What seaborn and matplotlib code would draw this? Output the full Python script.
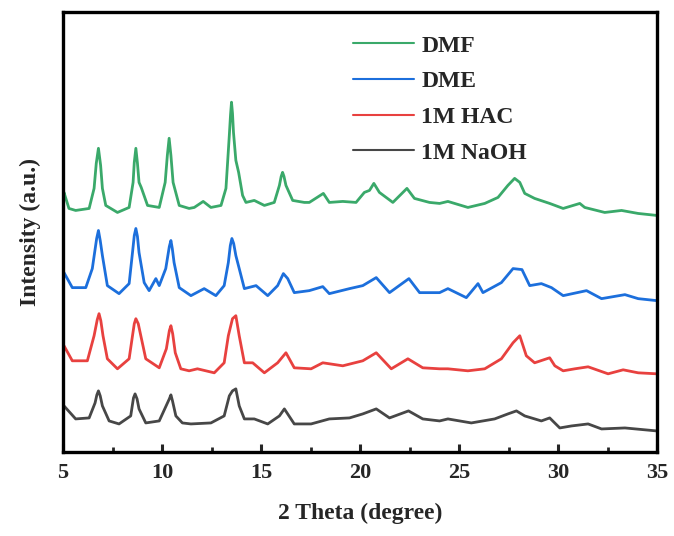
import matplotlib
matplotlib.use("Agg")
import matplotlib.pyplot as plt
import seaborn as sns
import pandas as pd

# ---- data (2-theta in degree, intensity in arbitrary units, offset stacked) ----
dmf_x = [5.0, 5.05, 5.3, 5.64, 6.32, 6.57, 6.68, 6.79, 6.90, 6.99, 7.16, 7.75, 8.34, 8.54, 8.60, 8.68,
         8.76, 8.84, 8.95, 9.27, 9.86, 10.16, 10.27, 10.36, 10.45, 10.56, 10.87, 11.37, 11.63, 12.08,
         12.47, 12.98, 13.23, 13.40, 13.46, 13.51, 13.56, 13.61, 13.73, 13.87, 14.07, 14.24, 14.66,
         15.17, 15.67, 15.93, 16.02, 16.09, 16.16, 16.26, 16.60, 17.19, 17.44, 18.15, 18.45, 19.13,
         19.80, 20.22, 20.48, 20.70, 20.98, 21.66, 22.37, 22.75, 23.51, 24.02, 24.44, 25.45, 26.30,
         26.97, 27.47, 27.81, 28.07, 28.32, 28.82, 29.58, 30.26, 31.10, 31.35, 32.36, 33.21, 34.05,
         35.0]
dmf_y = [258, 263, 247, 245, 247, 267, 292, 307, 290, 267, 250, 243, 248, 273, 293, 307,
         292, 273, 268, 250, 248, 273, 300, 317, 300, 273, 250, 247, 248, 254,
         248, 250, 267, 320, 340, 353, 342, 323, 295, 283, 260, 253, 255,
         250, 253, 270, 279, 283, 279, 270, 255, 253, 253, 262, 253, 254,
         253, 263, 265, 272, 263, 253, 267, 257, 253, 252, 254, 248, 252,
         258, 270, 277, 273, 262, 257, 252, 247, 252, 248, 243, 245, 242,
         240]

dme_x = [5.0, 5.05, 5.47, 6.15, 6.48, 6.70, 6.79, 6.88, 6.99, 7.24, 7.83, 8.34, 8.51, 8.60, 8.68,
         8.76, 8.84, 9.10, 9.35, 9.69, 9.86, 10.19, 10.37, 10.45, 10.52, 10.61, 10.87, 11.46, 12.13,
         12.72, 13.14, 13.35, 13.45, 13.53, 13.62, 13.73, 13.90, 14.16, 14.75, 15.34, 15.84, 16.13,
         16.35, 16.68, 17.44, 18.12, 18.45, 19.47, 20.14, 20.82, 21.49, 22.47, 23.01, 24.02, 24.44,
         25.37, 25.96, 26.21, 27.14, 27.73, 28.18, 28.57, 29.16, 29.67, 30.26, 31.44, 32.20, 33.38,
         34.05, 35.0]
dme_y = [178, 183, 168, 168, 187, 217, 225, 215, 200, 170, 162, 172, 203, 220, 227,
         219, 203, 173, 165, 177, 170, 187, 209, 215, 207, 193, 168, 160, 167,
         160, 170, 193, 210, 217, 212, 200, 187, 167, 170, 160, 170, 182,
         177, 163, 165, 169, 162, 167, 170, 178, 163, 177, 163, 163, 167,
         158, 172, 163, 173, 187, 186, 170, 172, 168, 160, 165, 157, 161,
         157, 155]

hac_x = [5.0, 5.05, 5.47, 6.23, 6.57, 6.73, 6.82, 6.91, 7.02, 7.24, 7.75, 8.34, 8.51, 8.60, 8.68,
         8.80, 8.93, 9.18, 9.86, 10.22, 10.37, 10.45, 10.54, 10.67, 10.95, 11.37, 11.79, 12.64,
         13.14, 13.35, 13.56, 13.73, 13.90, 14.16, 14.58, 15.17, 15.84, 16.26, 16.68, 17.53, 18.12,
         19.13, 20.14, 20.82, 21.58, 22.42, 23.17, 24.02, 24.44, 25.45, 26.30, 27.14, 27.73, 28.07,
         28.40, 28.82, 29.58, 29.84, 30.26, 30.85, 31.52, 32.53, 33.29, 34.05, 35.0]
hac_y = [106, 110, 95, 95, 120, 136, 142, 135, 120, 97, 87, 97, 120, 132, 137,
         132, 120, 97, 88, 107, 125, 130, 122, 103, 87, 85, 87, 83,
         93, 120, 137, 140, 120, 93, 93, 83, 93, 103, 88, 87, 93,
         90, 95, 103, 87, 97, 88, 87, 87, 85, 87, 97, 113, 120,
         100, 93, 98, 90, 85, 87, 89, 82, 86, 83, 82]

naoh_x = [5.0, 5.05, 5.64, 6.32, 6.62, 6.71, 6.79, 6.88, 6.99, 7.33, 7.83, 8.42, 8.56, 8.64, 8.74,
          8.84, 9.18, 9.86, 10.37, 10.45, 10.53, 10.70, 11.03, 11.46, 12.47, 13.14, 13.40, 13.56,
          13.73, 13.90, 14.16, 14.66, 15.34, 15.93, 16.18, 16.68, 17.53, 18.45, 19.47, 20.14, 20.82,
          21.49, 22.45, 23.17, 24.02, 24.44, 25.62, 26.80, 27.47, 27.90, 28.32, 29.16, 29.58, 30.09,
          30.68, 31.52, 32.20, 33.38, 35.0]
naoh_y = [46, 50, 37, 38, 53, 61, 65, 60, 50, 35, 32, 40, 58, 62, 57,
          47, 33, 35, 57, 61, 55, 40, 33, 32, 33, 40, 60, 65,
          67, 50, 37, 37, 32, 40, 47, 32, 32, 37, 38, 42, 47,
          38, 45, 37, 35, 37, 33, 37, 42, 45, 40, 35, 38, 28,
          30, 32, 27, 28, 25]

labels = ["DMF", "DME", "1M HAC", "1M NaOH"]
colors = ["#3aa96a", "#1c6fdc", "#e8413f", "#474747"]
x_ticks = [5, 10, 15, 20, 25, 30, 35]

series = {
    "DMF": (dmf_x, dmf_y),
    "DME": (dme_x, dme_y),
    "1M HAC": (hac_x, hac_y),
    "1M NaOH": (naoh_x, naoh_y),
}
frames = []
for name, (xs, ys) in series.items():
    frames.append(pd.DataFrame({"theta": xs, "intensity": ys, "sample": name}))
df = pd.concat(frames, ignore_index=True)

sns.set_style("ticks")
plt.rcParams["font.family"] = ["Liberation Serif", "DejaVu Serif"]
plt.rcParams["font.weight"] = "bold"

fig = plt.figure(figsize=(6.74, 5.36), dpi=100)
ax = fig.add_axes([63 / 674, 1 - 452 / 536, (657 - 63) / 674, (452 - 12) / 536])

for name, col in zip(labels[::-1], colors[::-1]):
    sub = df[df["sample"] == name]
    sns.lineplot(data=sub, x="theta", y="intensity", color=col, linewidth=2.0,
                 ax=ax, label=name, estimator=None, sort=False)

ax.set_xlim(5, 35)
ax.set_ylim(4, 443)
ax.set_xticks(x_ticks)
ax.set_xticks([7.5, 12.5, 17.5, 22.5, 27.5, 32.5], minor=True)
ax.set_yticks([])
ax.tick_params(axis="x", which="major", direction="in", length=6, width=2.2,
               labelsize=16, pad=8, top=False)
ax.tick_params(axis="x", which="minor", direction="in", length=3.5, width=2, top=False)
for lab in ax.get_xticklabels():
    lab.set_fontweight("bold")
for sp in ax.spines.values():
    sp.set_visible(True)
    sp.set_linewidth(2.4)
    sp.set_color("black")

ax.set_xlabel("2 Theta (degree)", fontsize=17, fontweight="bold", labelpad=14)
ax.set_ylabel("Intensity (a.u.)", fontsize=17, fontweight="bold", labelpad=16)

handles, labs = ax.get_legend_handles_labels()
order = [labs.index(l) for l in labels]
leg = ax.legend([handles[i] for i in order], [labs[i] for i in order],
                loc="upper left", bbox_to_anchor=(353 / 674, 1 - 35 / 536),
                bbox_transform=fig.transFigure, frameon=False,
                prop={"family": "Liberation Serif", "weight": "bold", "size": 17},
                handlelength=2.6, handletextpad=0.3, labelspacing=0.6,
                borderpad=0, borderaxespad=0)
for h in leg.get_lines():
    h.set_linewidth(1.5)

fig.savefig("out.png", dpi=100)
